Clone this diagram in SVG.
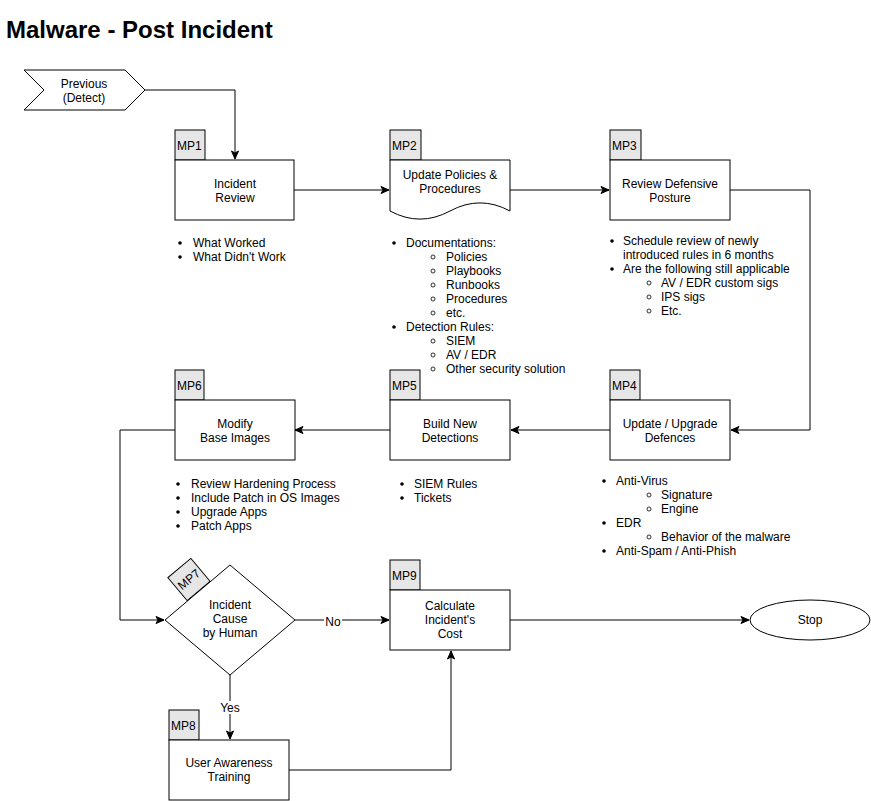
<svg xmlns="http://www.w3.org/2000/svg" width="871" height="801" viewBox="0 0 871 801">
<style>
text{font-family:"Liberation Sans",Arial,Helvetica,sans-serif;font-size:12px;fill:#000}
.c{text-anchor:middle}
.title{font-size:24px;font-weight:bold}
.box{fill:#fff;stroke:#000;stroke-width:1}
.tab{fill:#e6e6e6;stroke:#000;stroke-width:1}
.edge{fill:none;stroke:#000;stroke-width:1}
.b{fill:#000}
.s{fill:none;stroke:#000;stroke-width:0.8}
.lbl{fill:#fff}
</style>
<defs>
<marker id="arr" markerUnits="userSpaceOnUse" markerWidth="10" markerHeight="10" viewBox="0 0 10 10" refX="9" refY="5" orient="auto">
<path d="M1,1.5 L9,5 L1,8.5 L3,5 z" fill="#000" stroke="#000" stroke-width="1"/>
</marker>
</defs>
<rect width="871" height="801" fill="#fff"/>
<text class="title" x="6" y="38">Malware - Post Incident</text>

<g id="connectors">
<path class="edge" d="M145,90 L235,90 L235,159" marker-end="url(#arr)"/>
<path class="edge" d="M294,190 L389,190" marker-end="url(#arr)"/>
<path class="edge" d="M510,190 L609,190" marker-end="url(#arr)"/>
<path class="edge" d="M730,190 L810,190 L810,430 L731,430" marker-end="url(#arr)"/>
<path class="edge" d="M610,430 L511,430" marker-end="url(#arr)"/>
<path class="edge" d="M390,430 L295,430" marker-end="url(#arr)"/>
<path class="edge" d="M175,430 L120,430 L120,620 L164,620" marker-end="url(#arr)"/>
<path class="edge" d="M295,620 L389,620" marker-end="url(#arr)"/>
<rect class="lbl" x="324" y="614" width="18" height="13"/>
<text class="c" x="333" y="626">No</text>
<path class="edge" d="M230,675 L230,739" marker-end="url(#arr)"/>
<rect class="lbl" x="219" y="701" width="22" height="13"/>
<text class="c" x="230" y="712">Yes</text>
<path class="edge" d="M289,770 L451,770 L451,651" marker-end="url(#arr)"/>
<path class="edge" d="M510,620 L749,620" marker-end="url(#arr)"/>
</g>

<g id="previous">
<path class="box" d="M24,70 L125,70 L145,90 L125,110 L24,110 L44,90 z"/>
<text class="c" x="84" y="88">Previous</text>
<text class="c" x="84" y="102">(Detect)</text>
</g>

<g id="mp1">
<rect class="tab" x="175" y="130" width="30" height="30"/>
<text x="177" y="150">MP1</text>
<rect class="box" x="175" y="160" width="119" height="60"/>
<text class="c" x="235" y="188">Incident</text>
<text class="c" x="235" y="202">Review</text>
</g>
<g id="mp1-notes">
<circle class="b" cx="180" cy="243" r="1.8"/>
<text x="193" y="247">What Worked</text>
<circle class="b" cx="180" cy="257" r="1.8"/>
<text x="193" y="261">What Didn't Work</text>
</g>

<g id="mp2">
<rect class="tab" x="390" y="130" width="31" height="30"/>
<text x="392" y="150">MP2</text>
<path class="box" d="M390,160 L510,160 L510,211 Q480,194.8 450,211 Q420,227.2 390,211 z"/>
<text class="c" x="450" y="179">Update Policies &amp;</text>
<text class="c" x="450" y="193">Procedures</text>
</g>
<g id="mp2-notes">
<circle class="b" cx="394" cy="243" r="1.8"/>
<text x="406" y="247">Documentations:</text>
<circle class="s" cx="433" cy="257" r="2"/>
<text x="446" y="261">Policies</text>
<circle class="s" cx="433" cy="271" r="2"/>
<text x="446" y="275">Playbooks</text>
<circle class="s" cx="433" cy="285" r="2"/>
<text x="446" y="289">Runbooks</text>
<circle class="s" cx="433" cy="299" r="2"/>
<text x="446" y="303">Procedures</text>
<circle class="s" cx="433" cy="313" r="2"/>
<text x="446" y="317">etc.</text>
<circle class="b" cx="394" cy="327" r="1.8"/>
<text x="406" y="331">Detection Rules:</text>
<circle class="s" cx="433" cy="341" r="2"/>
<text x="446" y="345">SIEM</text>
<circle class="s" cx="433" cy="355" r="2"/>
<text x="446" y="359">AV / EDR</text>
<circle class="s" cx="433" cy="369" r="2"/>
<text x="446" y="373">Other security solution</text>
</g>

<g id="mp3">
<rect class="tab" x="610" y="130" width="31" height="30"/>
<text x="612" y="150">MP3</text>
<rect class="box" x="610" y="160" width="120" height="60"/>
<text class="c" x="670" y="188">Review Defensive</text>
<text class="c" x="670" y="202">Posture</text>
</g>
<g id="mp3-notes">
<circle class="b" cx="612" cy="241" r="1.8"/>
<text x="623" y="245">Schedule review of newly</text>
<text x="623" y="259">introduced rules in 6 months</text>
<circle class="b" cx="612" cy="269" r="1.8"/>
<text x="623" y="273">Are the following still applicable</text>
<circle class="s" cx="649" cy="283" r="2"/>
<text x="661" y="287">AV / EDR custom sigs</text>
<circle class="s" cx="649" cy="297" r="2"/>
<text x="661" y="301">IPS sigs</text>
<circle class="s" cx="649" cy="311" r="2"/>
<text x="661" y="315">Etc.</text>
</g>

<g id="mp4">
<rect class="tab" x="610" y="370" width="30" height="30"/>
<text x="612" y="390">MP4</text>
<rect class="box" x="610" y="400" width="120" height="60"/>
<text class="c" x="670" y="428">Update / Upgrade</text>
<text class="c" x="670" y="442">Defences</text>
</g>
<g id="mp4-notes">
<circle class="b" cx="604" cy="481" r="1.8"/>
<text x="616" y="485">Anti-Virus</text>
<circle class="s" cx="649" cy="495" r="2"/>
<text x="661" y="499">Signature</text>
<circle class="s" cx="649" cy="509" r="2"/>
<text x="661" y="513">Engine</text>
<circle class="b" cx="604" cy="523" r="1.8"/>
<text x="616" y="527">EDR</text>
<circle class="s" cx="649" cy="537" r="2"/>
<text x="661" y="541">Behavior of the malware</text>
<circle class="b" cx="604" cy="551" r="1.8"/>
<text x="616" y="555">Anti-Spam / Anti-Phish</text>
</g>

<g id="mp5">
<rect class="tab" x="390" y="370" width="30" height="30"/>
<text x="392" y="390">MP5</text>
<rect class="box" x="390" y="400" width="120" height="60"/>
<text class="c" x="450" y="428">Build New</text>
<text class="c" x="450" y="442">Detections</text>
</g>
<g id="mp5-notes">
<circle class="b" cx="402" cy="484" r="1.8"/>
<text x="414" y="488">SIEM Rules</text>
<circle class="b" cx="402" cy="498" r="1.8"/>
<text x="414" y="502">Tickets</text>
</g>

<g id="mp6">
<rect class="tab" x="175" y="370" width="29" height="30"/>
<text x="177" y="390">MP6</text>
<rect class="box" x="175" y="400" width="120" height="60"/>
<text class="c" x="235" y="428">Modify</text>
<text class="c" x="235" y="442">Base Images</text>
</g>
<g id="mp6-notes">
<circle class="b" cx="178" cy="484" r="1.8"/>
<text x="191" y="488">Review Hardening Process</text>
<circle class="b" cx="178" cy="498" r="1.8"/>
<text x="191" y="502">Include Patch in OS Images</text>
<circle class="b" cx="178" cy="512" r="1.8"/>
<text x="191" y="516">Upgrade Apps</text>
<circle class="b" cx="178" cy="526" r="1.8"/>
<text x="191" y="530">Patch Apps</text>
</g>

<g id="mp7">
<g transform="translate(189,579.5) rotate(-40)">
<rect class="tab" x="-15" y="-15" width="30" height="30"/>
<text class="c" x="0" y="4">MP7</text>
</g>
<path class="box" d="M230,565 L295,620 L230,675 L165,620 z"/>
<text class="c" x="230" y="609">Incident</text>
<text class="c" x="230" y="623">Cause</text>
<text class="c" x="230" y="637">by Human</text>
</g>

<g id="mp8">
<rect class="tab" x="169" y="710" width="30" height="30"/>
<text x="171" y="730">MP8</text>
<rect class="box" x="169" y="740" width="120" height="60"/>
<text class="c" x="229" y="767">User Awareness</text>
<text class="c" x="229" y="781">Training</text>
</g>

<g id="mp9">
<rect class="tab" x="390" y="560" width="30" height="30"/>
<text x="392" y="580">MP9</text>
<rect class="box" x="390" y="590" width="120" height="60"/>
<text class="c" x="450" y="610">Calculate</text>
<text class="c" x="450" y="624">Incident's</text>
<text class="c" x="450" y="638">Cost</text>
</g>

<g id="stop">
<ellipse class="box" cx="810" cy="620" rx="60" ry="20"/>
<text class="c" x="810" y="624">Stop</text>
</g>
</svg>
